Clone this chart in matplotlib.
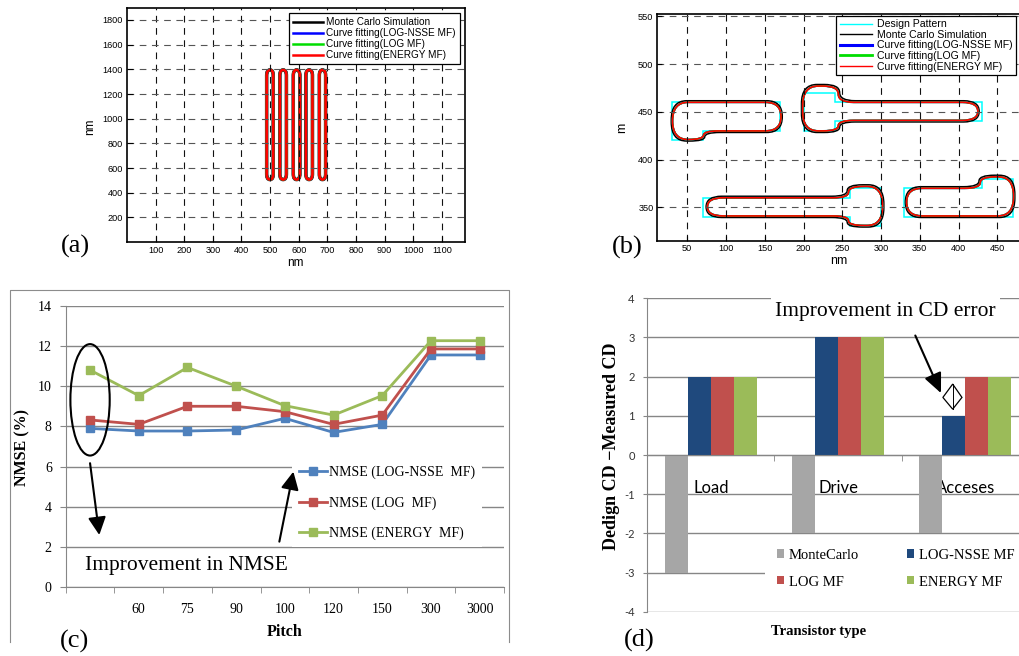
import numpy as np
import matplotlib
matplotlib.use('Agg')
import matplotlib.pyplot as plt
from matplotlib.path import Path
from matplotlib.patches import PathPatch, Ellipse, Polygon, FancyArrowPatch, Patch
from matplotlib.lines import Line2D

# ---------------- data ----------------
# (a) line/space pattern: extents of the five simulated lines (nm)
a_left = [488, 534, 581, 625, 672]
a_right = [511, 557, 604, 648, 694]
a_bottom = [507, 507, 507, 507, 507]
a_top = [1395, 1395, 1395, 1395, 1395]
a_xticks = [100, 200, 300, 400, 500, 600, 700, 800, 900, 1000, 1100]
a_yticks = [200, 400, 600, 800, 1000, 1200, 1400, 1600, 1800]
a_labels = ['Monte Carlo Simulation', 'Curve fitting(LOG-NSSE MF)',
            'Curve fitting(LOG MF)', 'Curve fitting(ENERGY MF)']

# (b) design pattern polygons (nm)
b_design_1 = [(30, 420), (70, 420), (70, 430), (170, 430), (170, 460), (30, 460)]
b_design_2 = [(200, 430), (240, 430), (240, 440), (430, 440), (430, 460), (240, 460), (240, 470), (200, 470)]
b_design_3 = [(70, 340), (260, 340), (260, 330), (300, 330), (300, 370), (260, 370), (260, 360), (70, 360)]
b_design_4 = [(330, 340), (470, 340), (470, 380), (430, 380), (430, 370), (330, 370)]
# (b) fitted contour polygons (nm) - rounded when drawn
b_fit_1 = [(31, 421), (71, 421), (71, 430), (171, 430), (171, 460), (31, 460)]
b_fit_2 = [(199, 430), (245, 430), (245, 441), (425, 441), (425, 460), (245, 460), (245, 477), (199, 477)]
b_fit_3 = [(76, 341), (258, 341), (258, 331), (302, 331), (302, 372), (258, 372), (258, 360), (76, 360)]
b_fit_4 = [(333, 341), (471, 341), (471, 382), (428, 382), (428, 370), (333, 370)]
b_xticks = [50, 100, 150, 200, 250, 300, 350, 400, 450]
b_yticks = [350, 400, 450, 500, 550]
b_labels = ['Design Pattern', 'Monte Carlo Simulation', 'Curve fitting(LOG-NSSE MF)',
            'Curve fitting(LOG MF)', 'Curve fitting(ENERGY MF)']

# (c) NMSE vs pitch
c_pitch = ['', '60', '75', '90', '100', '120', '150', '300', '3000']
c_log_nsse = [7.9, 7.77, 7.77, 7.82, 8.4, 7.7, 8.1, 11.55, 11.55]
c_log = [8.32, 8.1, 9.0, 9.0, 8.73, 8.1, 8.56, 11.85, 11.85]
c_energy = [10.8, 9.53, 10.93, 10.0, 9.03, 8.56, 9.53, 12.26, 12.26]
c_labels = ['NMSE (LOG-NSSE  MF)', 'NMSE (LOG  MF)', 'NMSE (ENERGY  MF)']
c_yticks = [0, 2, 4, 6, 8, 10, 12, 14]

# (d) CD error per transistor type
d_types = ['Load', 'Drive', 'Acceses']
d_montecarlo = [-3, -2, -2]
d_log_nsse = [2, 3, 1]
d_log = [2, 3, 2]
d_energy = [2, 3, 2]
d_yticks = [-4, -3, -2, -1, 0, 1, 2, 3, 4]

# ---------------- helpers ----------------
W, H = 1019, 656
plt.rcParams['font.family'] = ['Liberation Sans', 'DejaVu Sans']
plt.rcParams['axes.unicode_minus'] = False
fig = plt.figure(figsize=(W / 100, H / 100), dpi=100)
SERIF = ['Liberation Serif', 'DejaVu Serif']
CAL = ['Lato', 'DejaVu Sans']


def px_axes(l, t, r, b):
    return fig.add_axes([l / W, 1 - b / H, (r - l) / W, (b - t) / H])


def fx(x):
    return x / W


def fy(y):
    return 1 - y / H


def offset_poly(verts, off):
    V = np.asarray(verts, float)
    n = len(V)
    out = []
    for i in range(n):
        e1 = V[i] - V[i - 1]
        e1 = e1 / np.hypot(*e1)
        e2 = V[(i + 1) % n] - V[i]
        e2 = e2 / np.hypot(*e2)
        n1 = np.array([e1[1], -e1[0]])
        n2 = np.array([e2[1], -e2[0]])
        out.append(V[i] + off * (n1 + n2))
    return out


def rounded_path(verts, rx, ry):
    V = np.asarray(verts, float)
    n = len(V)
    pts, codes = [], []
    for i in range(n):
        p, pp, pn = V[i], V[i - 1], V[(i + 1) % n]

        def step(q):
            d = q - p
            L = np.hypot(*d)
            r = rx if abs(d[0]) > abs(d[1]) else ry
            return p + d / L * min(r, L / 2)
        a = step(pp)
        b = step(pn)
        pts.append(a)
        codes.append(Path.MOVETO if i == 0 else Path.LINETO)
        pts += [p, b]
        codes += [Path.CURVE3, Path.CURVE3]
    pts.append(pts[0])
    codes.append(Path.CLOSEPOLY)
    return Path(pts, codes)


DASH = (0, (6, 5))

# ---------------- (a) ----------------
axA = px_axes(127, 8, 465, 241.5)
axA.set_xlim(0, 1181)
axA.set_ylim(5, 1897)
axA.set_xticks(a_xticks)
axA.set_yticks(a_yticks)
axA.xaxis.grid(True, color='#111111', ls=DASH, lw=0.8)
axA.yaxis.grid(True, color='#555555', ls=DASH, lw=0.8)
axA.tick_params(direction='in', length=4, labelsize=6.6, pad=3)
for s in axA.spines.values():
    s.set_linewidth(1.2)
colsA = ['black', '#0000ff', '#00dd00', '#ff0000']
lwsA = [2.5, 1.9, 1.9, 1.9]
for l, r, b, t in zip(a_left, a_right, a_bottom, a_top):
    path = rounded_path([(l, b), (r, b), (r, t), (l, t)], 12, 45)
    for c, lw in zip(colsA, lwsA):
        axA.add_patch(PathPatch(path, fill=False, ec=c, lw=lw))
hA = [Line2D([], [], color=c, lw=1.8) for c in colsA]
legA = axA.legend(hA, a_labels, loc='upper right', bbox_to_anchor=(fx(460), fy(13)),
                  bbox_transform=fig.transFigure, fontsize=7.2, handlelength=3.0,
                  handletextpad=0.4, labelspacing=0.1, borderpad=0.4, borderaxespad=0,
                  fancybox=False, framealpha=1, edgecolor='black')
legA.get_frame().set_linewidth(0.9)
fig.text(fx(90), fy(127), 'nm', rotation=90, ha='center', va='center', fontsize=8.5)
fig.text(fx(295), fy(263), 'nm', ha='center', va='center', fontsize=8.5)
fig.text(fx(75), fy(246), '(a)', ha='center', va='center', fontsize=19, family=SERIF)

# ---------------- (b) ----------------
axB = px_axes(657, 14, 1019, 240.5)
axB.set_xlim(11, 478)
axB.set_ylim(315.3, 552.4)
axB.set_xticks(b_xticks)
axB.set_yticks(b_yticks)
axB.xaxis.grid(True, color='#111111', ls=DASH, lw=0.8)
axB.yaxis.grid(True, color='#555555', ls=DASH, lw=0.8)
axB.tick_params(direction='in', length=3.5, labelsize=6.6, pad=2.5)
axB.spines['right'].set_visible(False)
for s in axB.spines.values():
    s.set_linewidth(1.2)
for design, fit in zip([b_design_1, b_design_2, b_design_3, b_design_4],
                       [b_fit_1, b_fit_2, b_fit_3, b_fit_4]):
    axB.add_patch(Polygon(design, closed=True, fill=False, ec='#00ffff', lw=1.1))
    axB.add_patch(PathPatch(rounded_path(offset_poly(fit, 1.6), 20, 20), fill=False, ec='black', lw=1.1))
    pf = rounded_path(fit, 20, 20)
    axB.add_patch(PathPatch(pf, fill=False, ec='#0000ff', lw=1.3))
    axB.add_patch(PathPatch(pf, fill=False, ec='#00dd00', lw=1.3))
    axB.add_patch(PathPatch(pf, fill=False, ec='#ff0000', lw=1.2))
hB = [Line2D([], [], color='#00ffff', lw=1.0), Line2D([], [], color='black', lw=1.0),
      Line2D([], [], color='#0000ff', lw=2.2), Line2D([], [], color='#00dd00', lw=2.0),
      Line2D([], [], color='#ff0000', lw=1.0)]
legB = axB.legend(hB, b_labels, loc='upper right', bbox_to_anchor=(fx(1016), fy(15.7)),
                  bbox_transform=fig.transFigure, fontsize=7.6, handlelength=3.1,
                  handletextpad=0.42, labelspacing=0.05, borderpad=0.35, borderaxespad=0,
                  fancybox=False, framealpha=1, edgecolor='black')
legB.get_frame().set_linewidth(0.9)
fig.text(fx(622), fy(128), 'm', rotation=90, ha='center', va='center', fontsize=9)
fig.text(fx(839), fy(261), 'nm', ha='center', va='center', fontsize=9)
fig.text(fx(627), fy(247), '(b)', ha='center', va='center', fontsize=19, family=SERIF)

# ---------------- (c) ----------------
GRID = '#868686'
axC = px_axes(65.7, 305.7, 504, 587.3)
xc = np.arange(len(c_pitch))
axC.set_xlim(-0.5, len(c_pitch) - 0.5)
axC.set_ylim(0, 14)
axC.set_yticks(c_yticks)
axC.yaxis.grid(True, color=GRID, lw=1)
axC.set_axisbelow(True)
axC.set_xticks(xc)
axC.set_xticklabels(c_pitch)
axC.set_xticks(np.arange(-0.5, len(c_pitch)), minor=True)
axC.tick_params(axis='x', which='major', length=0, pad=11, labelsize=10, labelfontfamily=SERIF)
axC.tick_params(axis='x', which='minor', length=4, color=GRID)
axC.tick_params(axis='y', length=4, color=GRID, pad=6, labelsize=10, labelfontfamily=SERIF)
for k in ['top', 'right']:
    axC.spines[k].set_visible(False)
for k in ['left', 'bottom']:
    axC.spines[k].set_color(GRID)
lc = []
for vals, col in zip([c_log_nsse, c_log, c_energy], ['#4F81BD', '#C0504D', '#9BBB59']):
    ln, = axC.plot(xc, vals, color=col, lw=2.0, marker='s', ms=5.5)
    lc.append(ln)
legC = axC.legend(lc, c_labels, loc='upper left', bbox_to_anchor=(fx(292), fy(459)),
                  bbox_transform=fig.transFigure, prop={'family': SERIF, 'size': 10},
                  handlelength=2.0, handletextpad=0.15, labelspacing=1.2, borderpad=0.5,
                  borderaxespad=0, frameon=True, fancybox=False, framealpha=1,
                  facecolor='white', edgecolor='none')
axC.add_patch(Ellipse((0, 9.32), 0.807, 5.54, fill=False, ec='black', lw=1.5, zorder=6, clip_on=False))
for (x0, y0), (x1, y1) in [((0, 6.17), (0.19, 2.6)), ((3.887, 2.27), (4.175, 5.75))]:
    axC.add_patch(FancyArrowPatch((x0, y0), (x1, y1), arrowstyle='-|>,head_length=0.9,head_width=0.45',
                                  mutation_scale=12, color='black', lw=1.5, shrinkA=0, shrinkB=0,
                                  zorder=6, clip_on=False))
axC.text(-0.103, 0.86, 'Improvement in NMSE', fontsize=15.5, family=SERIF, va='baseline', zorder=6)
fig.text(fx(22.5), fy(448), 'NMSE (%)', rotation=90, ha='center', va='center',
         fontsize=11.5, family=SERIF, fontweight='bold')
fig.text(fx(285), fy(632), 'Pitch', ha='center', va='center', fontsize=11.5, family=SERIF,
         fontweight='bold')
fig.add_artist(Line2D([fx(10), fx(10), fx(509), fx(509)], [fy(642), fy(290), fy(290), fy(642)],
                      transform=fig.transFigure, color='#8c8c8c', lw=0.8))
fig.text(fx(74.7), fy(641), '(c)', ha='center', va='center', fontsize=19, family=SERIF)

# ---------------- (d) ----------------
axD = px_axes(647.3, 298.3, 1028.7, 611.7)
xd = np.arange(len(d_types))
axD.set_xlim(-0.5, len(d_types) - 0.5)
axD.set_ylim(-4, 4)
axD.set_yticks(d_yticks)
axD.yaxis.grid(True, color=GRID, lw=1)
axD.set_axisbelow(True)
bw = 0.18
offs = [-0.27, -0.09, 0.09, 0.27]
colsD = ['#A6A6A6', '#1F497D', '#C0504D', '#9BBB59']
namesD = ['MonteCarlo', 'LOG-NSSE MF', 'LOG MF', 'ENERGY MF']
for vals, o, c in zip([d_montecarlo, d_log_nsse, d_log, d_energy], offs, colsD):
    axD.bar(xd + o, vals, width=bw, color=c, zorder=2)
axD.spines['bottom'].set_position(('data', 0))
axD.spines['bottom'].set_color(GRID)
axD.spines['left'].set_color(GRID)
for k in ['top', 'right']:
    axD.spines[k].set_visible(False)
axD.set_xticks(xd)
axD.set_xticklabels(d_types)
axD.set_xticks([0.5, 1.5], minor=True)
axD.tick_params(axis='x', which='major', length=0, pad=18, labelsize=12, labelfontfamily=CAL)
axD.tick_params(axis='x', which='minor', length=4, color=GRID)
axD.tick_params(axis='y', length=3, color=GRID, pad=6, labelsize=8, labelfontfamily=CAL,
                labelcolor='#333333')
hD = [Patch(facecolor=colsD[i]) for i in [0, 2, 1, 3]]
legD = axD.legend(hD, [namesD[i] for i in [0, 2, 1, 3]], ncol=2, loc='upper left',
                  bbox_to_anchor=(fx(765), fy(537)), bbox_transform=fig.transFigure,
                  prop={'family': SERIF, 'size': 10.5}, handlelength=0.48, handleheight=0.48,
                  handletextpad=0.35, columnspacing=3.3, labelspacing=0.95, borderpad=0.8,
                  borderaxespad=0, frameon=True, fancybox=False, framealpha=1,
                  facecolor='white', edgecolor='none')
axD.text(0.5055, 3.54, 'Improvement in CD error', fontsize=15.5, family=SERIF, va='baseline',
         zorder=6, bbox=dict(facecolor='white', edgecolor='none', pad=3))
axD.add_patch(FancyArrowPatch((1.608, 3.05), (1.81, 1.58), arrowstyle='-|>,head_length=1.0,head_width=0.45',
                              mutation_scale=12, color='black', lw=1.5, shrinkA=0, shrinkB=0, zorder=6))
axD.add_patch(Polygon([(1.902, 1.81), (1.975, 1.47), (1.902, 1.17), (1.825, 1.47)], closed=True,
                      fill=False, ec='black', lw=0.9, zorder=6))
axD.plot([1.902, 1.902], [1.81, 1.17], color='black', lw=0.7, zorder=6)
fig.text(fx(611.7), fy(446), 'Dedign CD \u2212Measured CD', rotation=90, ha='center', va='center',
         fontsize=13, family=SERIF, fontweight='bold')
fig.text(fx(819), fy(632), 'Transistor type', ha='center', va='center', fontsize=10.5,
         family=SERIF, fontweight='bold')
fig.text(fx(639), fy(640), '(d)', ha='center', va='center', fontsize=19, family=SERIF)

fig.savefig('out.png', dpi=100)
